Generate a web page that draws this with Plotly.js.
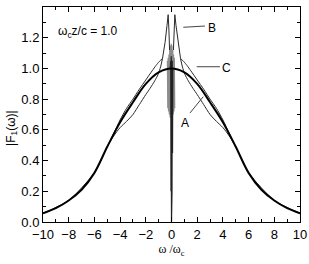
<!DOCTYPE html>
<html><head><meta charset="utf-8">
<script src="https://cdn.plot.ly/plotly-3.0.1.min.js"></script>
<style>html,body{margin:0;padding:0;background:#fff}#c{width:309px;height:264px}</style>
</head><body><div id="c"></div>
<script>
// Curve data (omega / omega_c, |F1|)
const bellX = [-10,-9,-8,-7,-6,-5,-4,-3,-2,-1,0,1,2,3,4,5,6,7,8,9,10];
const bellY = [0.057,0.09,0.14,0.21,0.32,0.49,0.65,0.78,0.90,0.975,1.0,0.975,0.90,0.78,0.65,0.49,0.32,0.21,0.14,0.09,0.057];

const cLeftX = [-10,-8,-6,-5,-4.5,-4,-3.5,-3,-2.5,-2,-1.5,-1.2,-0.95,-0.7];
const cLeftY = [0.057,0.14,0.32,0.49,0.575,0.665,0.74,0.80,0.865,0.925,0.985,1.02,1.045,1.065];
const cRightX = [0.7,0.95,1.2,1.5,2,2.5,3,3.5,4,4.5,5,6,8,10];
const cRightY = [1.065,1.045,1.02,0.985,0.925,0.865,0.80,0.74,0.665,0.575,0.49,0.32,0.14,0.057];

const aLeftX = [-5,-4.5,-4,-3.5,-3,-2.5,-2,-1.67,-1.3,-1.05,-0.85,-0.7];
const aLeftY = [0.49,0.56,0.615,0.655,0.70,0.765,0.83,0.87,0.92,0.96,1.01,1.065];
const aRightX = [0.7,0.85,1.05,1.3,1.67,2,2.5,3,3.5,4,4.5,5];
const aRightY = [1.065,1.01,0.96,0.92,0.87,0.83,0.765,0.70,0.655,0.615,0.56,0.49];

const bLeftX = [-0.7,-0.5,-0.35,-0.26,-0.2,-0.15];
const bLeftY = [1.065,1.17,1.28,1.35,1.25,1.12];
const bRightX = [0.15,0.2,0.26,0.35,0.5,0.7];
const bRightY = [1.12,1.25,1.35,1.28,1.17,1.065];

const oscX = [-0.32,-0.29,-0.26,-0.23,-0.2,-0.17,-0.14,-0.11,-0.08,-0.05,-0.02,0.01,0.04,0.07,0.1,0.13,0.16,0.19,0.22,0.25];
const oscY = [1.05,0.74,1.07,0.72,1.09,0.70,1.12,0.68,1.15,0.70,1.16,0.70,1.15,0.68,1.12,0.70,1.09,0.72,1.07,0.74];
const coreX = [-0.1,-0.08,-0.06,-0.04,-0.02,0.0,0.02,0.04,0.06,0.08,0.1,0.0,-0.03,0.03,0.0];
const coreY = [1.0,0.45,1.05,0.2,1.08,0.0,1.08,0.2,1.05,0.45,1.0,0.0,0.75,0.6,0.0];

const dark = '#2a2a2a';
const thin = {color: dark, width: 1, shape: 'spline', smoothing: 0.6};
function tr(x, y, line) { return {x: x, y: y, mode: 'lines', line: line, hoverinfo: 'skip', showlegend: false}; }

const traces = [
  tr(oscX, oscY, {color: '#8c8c8c', width: 1.2}),
  tr(coreX, coreY, {color: '#222', width: 1.2}),
  tr(cLeftX, cLeftY, thin), tr(cRightX, cRightY, thin),
  tr(aLeftX, aLeftY, thin), tr(aRightX, aRightY, thin),
  tr(bLeftX, bLeftY, {color: dark, width: 1}), tr(bRightX, bRightY, {color: dark, width: 1}),
  tr(bellX, bellY, {color: '#000', width: 2, shape: 'spline'})
];

const sans = 'Liberation Sans, Arial, sans-serif';
const tickFont = {family: sans, size: 13, color: '#000'};
const axBase = {
  showgrid: false, zeroline: false, showline: true, linecolor: '#000', linewidth: 1,
  mirror: 'allticks', ticks: 'inside', ticklen: 5, tickwidth: 1, tickcolor: '#000',
  tickfont: tickFont
};

const layout = {
  width: 309, height: 264,
  margin: {l: 43, r: 9, t: 7, b: 42},
  paper_bgcolor: '#fff', plot_bgcolor: '#fff',
  xaxis: Object.assign({}, axBase, {
    range: [-10, 10], dtick: 2, tick0: -10,
    minor: {dtick: 1, ticks: 'inside', ticklen: 3, tickcolor: '#000'},
    title: {text: 'ω /ω<sub>c</sub>', font: {family: 'Liberation Serif, Times New Roman, serif', size: 12, color: '#000'}, standoff: 4}
  }),
  yaxis: Object.assign({}, axBase, {
    range: [0, 1.4], dtick: 0.2, tick0: 0, tickformat: '.1f',
    minor: {dtick: 0.1, ticks: 'inside', ticklen: 3, tickcolor: '#000'}
  }),
  annotations: [
    {x: -0.121, y: 0.437, xref: 'paper', yref: 'paper', text: '|F<sub>1</sub>(ω)|', textangle: -90, showarrow: false,
     xanchor: 'center', yanchor: 'middle', font: {family: sans, size: 12, color: '#000'}},
    {x: -9.0, y: 1.235, xref: 'x', yref: 'y', text: 'ω<sub>c</sub>z/c = 1.0', showarrow: false, xanchor: 'left', yanchor: 'middle',
     font: {family: sans, size: 12, color: '#000'}},
    {x: 3.13, y: 1.263, xref: 'x', yref: 'y', text: 'B', showarrow: false, font: {family: sans, size: 12, color: '#000'}},
    {x: 4.3, y: 1.0, xref: 'x', yref: 'y', text: 'C', showarrow: false, font: {family: sans, size: 12, color: '#000'}},
    {x: 1.05, y: 0.643, xref: 'x', yref: 'y', text: 'A', showarrow: false, font: {family: sans, size: 12, color: '#000'}}
  ],
  shapes: [
    {type: 'line', xref: 'x', yref: 'y', x0: 0.92, y0: 1.268, x1: 2.6, y1: 1.276, line: {color: '#444', width: 1}},
    {type: 'line', xref: 'x', yref: 'y', x0: 1.96, y0: 1.011, x1: 3.77, y1: 1.011, line: {color: '#444', width: 1}},
    {type: 'line', xref: 'x', yref: 'y', x0: 1.44, y0: 0.71, x1: 2.47, y1: 0.816, line: {color: '#444', width: 1}}
  ]
};

Plotly.newPlot('c', traces, layout, {displayModeBar: false, staticPlot: true});
</script></body></html>
